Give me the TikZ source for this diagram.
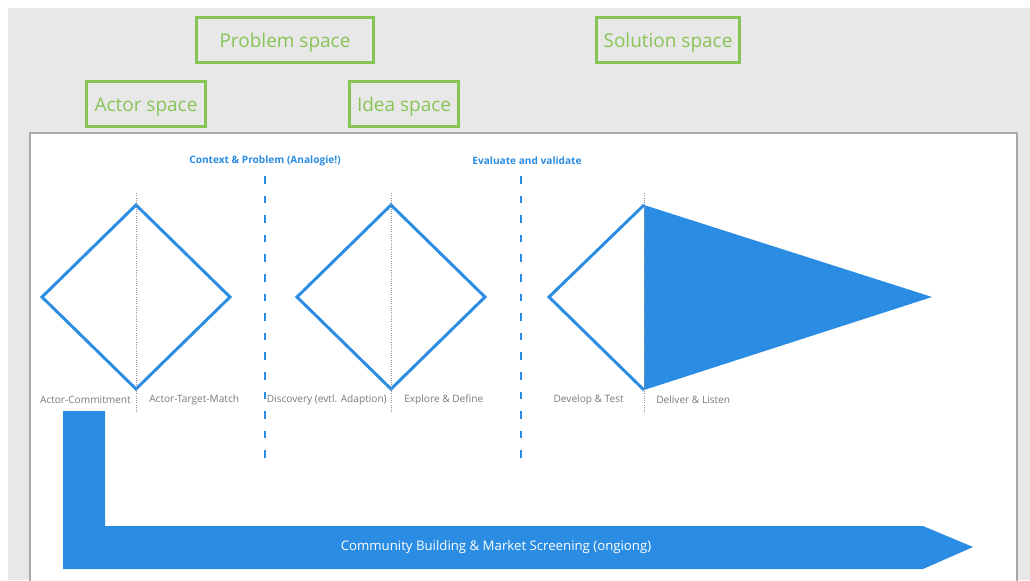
\documentclass[tikz,border=0pt]{standalone}
\usepackage{fontspec}
\setmainfont{Open Sans}
\usepackage{xcolor}
\usetikzlibrary{positioning}

\definecolor{flowblue}{HTML}{2A8CE2}
\definecolor{spacegreen}{HTML}{88C455}
\definecolor{labelgray}{HTML}{7A7A7A}
\definecolor{canvasgray}{HTML}{E8E8E8}
\definecolor{panelline}{HTML}{A8A8A8}

\begin{document}
\begin{tikzpicture}[x=0.025cm, y=-0.025cm,
    spacebox/.style={draw=spacegreen, line width=2.1pt, text=spacegreen,
        font=\fontsize{13.5}{15}\selectfont, minimum height=1.12cm, inner sep=0pt,
        text height=1.04em, text depth=0pt},
    phase/.style={text=labelgray, font=\fontsize{7.2}{8}\selectfont, inner sep=0pt},
    heading/.style={text=flowblue, font=\bfseries\fontsize{7.2}{8}\selectfont},
    diam/.style={draw=flowblue, line width=2.1pt, line join=miter},
    axis/.style={draw=labelgray!80, densely dotted, line width=0.6pt},
    divider/.style={draw=flowblue, line width=2.1pt, dash pattern=on 0.19cm off 0.3cm}]
    \clip (0,0) rectangle (1030,580);

    % Canvas and panel
    \fill[white] (0,0) rectangle (1030,580);
    \fill[canvasgray] (8,8) rectangle (1030,580);
    \draw[panelline, fill=white, line width=0.8pt] (30,133) rectangle (1017,600);

    % Space boxes
    \node[spacebox, minimum width=4.42cm] (problem) at (285,40) {Problem space};
    \node[spacebox, minimum width=3.58cm] (solution) at (668,40) {Solution space};
    \node[spacebox, minimum width=2.98cm] (actor) at (146,104) {Actor space};
    \node[spacebox, minimum width=2.73cm] (idea) at (404,104) {Idea space};

    % Headings and dividers
    \node[heading] (context) at (265,161) {Context \& Problem (Analogie!)};
    \node[heading] (evaluate) at (527,161) {Evaluate and validate};
    \draw[divider] (265,176) -- (265,459);
    \draw[divider] (521,176) -- (521,459);

    % Diamonds
    \coordinate (d1) at (136,297);
    \coordinate (d2) at (391,297);
    \draw[diam] (d1) +(-94,0) -- +(0,-92) -- +(94,0) -- +(0,92) -- cycle;
    \draw[diam] (d2) +(-94,0) -- +(0,-92) -- +(94,0) -- +(0,92) -- cycle;

    % Last diamond opens into the delivery wedge
    \coordinate (d3top) at (644,205);
    \coordinate (d3bot) at (644,390);
    \coordinate (d3tip) at (932,297);
    \fill[flowblue] (d3top) -- (d3tip) -- (d3bot) -- cycle;
    \draw[diam] (d3top) -- (549,297) -- (d3bot);

    % Centre axes
    \draw[axis] (136,193) -- (136,412);
    \draw[axis] (391,193) -- (391,412);
    \draw[axis] (644,193) -- (644,412);

    % Phase labels
    \node[phase, anchor=east] (commit) at (131,400) {Actor-Commitment};
    \node[phase, anchor=west] (match) at (149,400) {Actor-Target-Match};
    \node[phase, anchor=east] (discovery) at (387,400) {Discovery (evtl. Adaption)};
    \node[phase, anchor=west] (explore) at (404,400) {Explore \& Define};
    \node[phase, anchor=east] (develop) at (624,400) {Develop \& Test};
    \node[phase, anchor=west] (deliver) at (656,400) {Deliver \& Listen};

    % Ongoing arrow
    \fill[flowblue] (63,411) -- (105,411) -- (105,526) -- (923,526) -- (973,547)
        -- (923,569) -- (63,569) -- cycle;
    \node[text=white, font=\fontsize{9.4}{11}\selectfont] (community) at (496,547)
        {Community Building \& Market Screening (ongiong)};
\end{tikzpicture}
\end{document}
